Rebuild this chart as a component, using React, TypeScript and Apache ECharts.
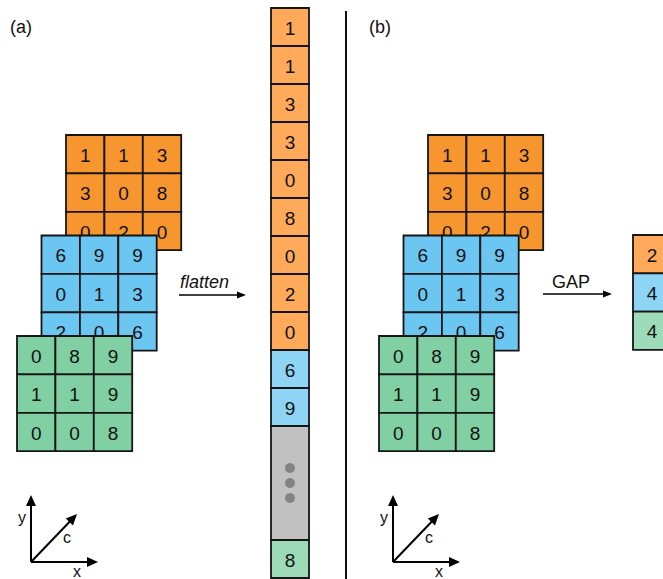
import React, { useEffect, useRef } from "react";
import * as echarts from "echarts";

// ---------- data ----------
const orangeMap = [
  [1, 1, 3],
  [3, 0, 8],
  [0, 2, 0],
];
const blueMap = [
  [6, 9, 9],
  [0, 1, 3],
  [2, 0, 6],
];
const greenMap = [
  [0, 8, 9],
  [1, 1, 9],
  [0, 0, 8],
];
const featureMaps = [orangeMap, blueMap, greenMap];

const flatValues = ["1", "1", "3", "3", "0", "8", "0", "2", "0", "6", "9", "", "8"];
const flatChannel = [0, 0, 0, 0, 0, 0, 0, 0, 0, 1, 1, 3, 2];
const flatSpan = [1, 1, 1, 1, 1, 1, 1, 1, 1, 1, 1, 3, 1];

const gapValues = [2, 4, 4];

const panelLabels = ["(a)", "(b)"];
const opLabels = ["flatten", "GAP"];
const axisNames = ["x", "y", "c"];

// ---------- layout / style ----------
const W = 663;
const H = 579;
const FONT = '"Liberation Sans", Arial, Helvetica, sans-serif';
const CELL = 38.4;
const PANEL_X = [66, 428];
const LAYER_DX = -24.5;
const LAYER_Y0 = 135;
const LAYER_DY = 100.5;
const GRID_COLORS = ["#F7962F", "#6CC6F2", "#80D0A4"];
const LIGHT_COLORS = ["#FFAA5B", "#8ED4F5", "#9DDBB8", "#C1C1C1"];
const STROKE = "#151515";

const COL_X = 271;
const COL_Y = 8;
const COL_W = 38;
const COL_H = 38;

const GAP_X = 633;
const GAP_Y = 235;
const GAP_W = 38;
const GAP_H = 38.3;

const AXIS_ORIGINS = [
  [31, 562],
  [393, 562],
];

function cellGroup(api: any, x0: number, y0: number, w: number, h: number, fill: string, label: string, extra: any[] = []) {
  const tl = api.coord([x0, y0]);
  const br = api.coord([x0 + w, y0 + h]);
  return {
    type: "group",
    children: [
      {
        type: "rect",
        shape: { x: tl[0], y: tl[1], width: br[0] - tl[0], height: br[1] - tl[1] },
        style: { fill, stroke: STROKE, lineWidth: 1.8 },
      },
      {
        type: "text",
        style: {
          text: label,
          x: (tl[0] + br[0]) / 2,
          y: (tl[1] + br[1]) / 2 + 1,
          align: "center",
          verticalAlign: "middle",
          fontSize: 19,
          fontFamily: FONT,
          fill: "#111",
        },
      },
      ...extra.map((e) => e(tl, br)),
    ],
  };
}

function arrow(x1: number, y1: number, x2: number, y2: number, head: number, half: number, lw: number) {
  const dx = x2 - x1;
  const dy = y2 - y1;
  const len = Math.sqrt(dx * dx + dy * dy);
  const ux = dx / len;
  const uy = dy / len;
  const bx = x2 - ux * head;
  const by = y2 - uy * head;
  const px = -uy;
  const py = ux;
  return [
    {
      type: "line",
      shape: { x1, y1, x2: bx + ux * 1, y2: by + uy * 1 },
      style: { stroke: "#000", lineWidth: lw },
      silent: true,
    },
    {
      type: "polygon",
      shape: {
        points: [
          [x2, y2],
          [bx + px * half, by + py * half],
          [bx - px * half, by - py * half],
        ],
      },
      style: { fill: "#000" },
      silent: true,
    },
  ];
}

export default function App() {
  const ref = useRef<HTMLDivElement>(null);

  useEffect(() => {
    if (!ref.current) return;
    const chart = echarts.init(ref.current, undefined, { renderer: "svg" });

    const mapSeries = featureMaps.map((m, c) => {
      const data: number[][] = [];
      for (let p = 0; p < 2; p++)
        for (let r = 0; r < 3; r++)
          for (let k = 0; k < 3; k++) data.push([p, r, k, m[r][k]]);
      return {
        type: "custom",
        z: 2 + c,
        silent: true,
        data,
        renderItem: (params: any, api: any) => {
          const p = api.value(0);
          const r = api.value(1);
          const k = api.value(2);
          const v = api.value(3);
          const x0 = PANEL_X[p] + LAYER_DX * c + k * CELL;
          const y0 = LAYER_Y0 + LAYER_DY * c + r * CELL;
          return cellGroup(api, x0, y0, CELL, CELL, GRID_COLORS[c], String(v));
        },
      };
    });

    const flatData: any[] = [];
    let slot = 0;
    flatValues.forEach((v, i) => {
      flatData.push([slot, flatSpan[i], flatChannel[i], v]);
      slot += flatSpan[i];
    });

    const flatSeries = {
      type: "custom",
      z: 2,
      silent: true,
      data: flatData,
      dimensions: ["slot", "span", "ch", "label"],
      renderItem: (params: any, api: any) => {
        const d = flatData[params.dataIndex];
        const s = d[0];
        const span = d[1];
        const ch = d[2];
        const label = d[3];
        const y0 = COL_Y + s * COL_H;
        const extra =
          ch === 3
            ? [-15, 0, 15].map((off) => (tl: number[], br: number[]) => ({
                type: "circle",
                shape: { cx: (tl[0] + br[0]) / 2, cy: (tl[1] + br[1]) / 2 + off, r: 5 },
                style: { fill: "#838383" },
              }))
            : [];
        return cellGroup(api, COL_X, y0, COL_W, COL_H * span, LIGHT_COLORS[ch], label, extra);
      },
    };

    const gapSeries = {
      type: "custom",
      z: 2,
      silent: true,
      data: gapValues.map((v, i) => [i, v]),
      renderItem: (params: any, api: any) => {
        const i = api.value(0);
        const v = api.value(1);
        return cellGroup(api, GAP_X, GAP_Y + i * GAP_H, GAP_W, GAP_H, LIGHT_COLORS[i], String(v));
      },
    };

    const graphics: any[] = [];
    // panel labels
    panelLabels.forEach((t, i) => {
      graphics.push({
        type: "text",
        x: i === 0 ? 10 : 369,
        y: 27,
        style: { text: t, fontSize: 18, fontFamily: FONT, fill: "#111", align: "left", verticalAlign: "middle" },
        silent: true,
      });
    });
    // separator
    graphics.push({
      type: "line",
      shape: { x1: 346, y1: 11, x2: 346, y2: H },
      style: { stroke: "#111", lineWidth: 2 },
      silent: true,
    });
    // op arrows
    graphics.push(...arrow(179, 295, 246, 295, 9, 3.5, 1.7));
    graphics.push(...arrow(543, 294, 612, 294, 9, 3.5, 1.7));
    graphics.push({
      type: "text",
      x: 180,
      y: 282,
      style: { text: opLabels[0], fontSize: 18, fontStyle: "italic", fontFamily: FONT, fill: "#111", align: "left", verticalAlign: "middle" },
      silent: true,
    });
    graphics.push({
      type: "text",
      x: 552,
      y: 282,
      style: { text: opLabels[1], fontSize: 18, fontFamily: FONT, fill: "#111", align: "left", verticalAlign: "middle" },
      silent: true,
    });
    // coordinate axes icons
    AXIS_ORIGINS.forEach(([ox, oy]) => {
      graphics.push(...arrow(ox, oy, ox + 67, oy, 11, 5, 2));
      graphics.push(...arrow(ox, oy, ox, oy - 67, 11, 5, 2));
      graphics.push(...arrow(ox, oy, ox + 46, oy - 48, 11, 5, 2));
      const labelPos = [
        [ox + 46, oy + 9],
        [ox - 9, oy - 45],
        [ox + 36, oy - 25],
      ];
      axisNames.forEach((n, i) => {
        graphics.push({
          type: "text",
          x: labelPos[i][0],
          y: labelPos[i][1],
          style: { text: n, fontSize: 16, fontFamily: FONT, fill: "#111", align: "center", verticalAlign: "middle" },
          silent: true,
        });
      });
    });

    chart.setOption({
      animation: false,
      grid: { left: 0, top: 0, right: 0, bottom: 0, containLabel: false },
      xAxis: { type: "value", min: 0, max: W, show: false },
      yAxis: { type: "value", min: 0, max: H, inverse: true, show: false },
      graphic: graphics,
      series: [...mapSeries, flatSeries, gapSeries],
    });

    return () => chart.dispose();
  }, []);

  return (
    <div
      ref={ref}
      style={{ position: "absolute", left: 0, top: 0, width: W, height: H, background: "#fff" }}
    />
  );
}
